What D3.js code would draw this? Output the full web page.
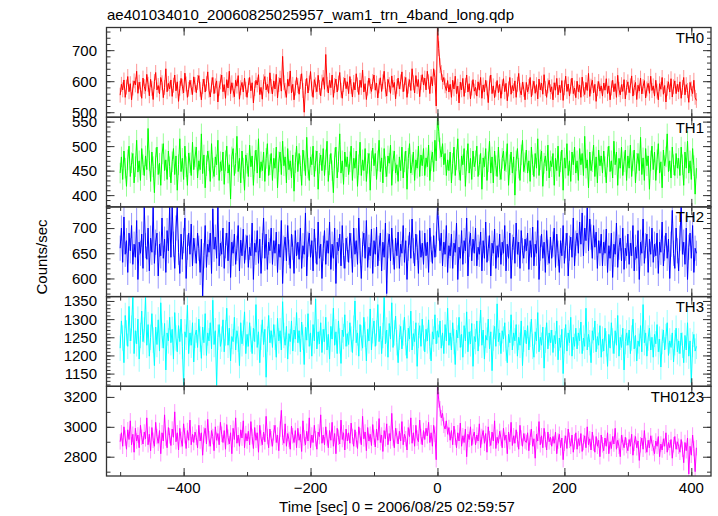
<!DOCTYPE html>
<html>
<head>
<meta charset="utf-8">
<script src="https://cdn.jsdelivr.net/npm/d3@7"></script>
<style>
  html, body { margin: 0; padding: 0; background: #fff; }
  svg { display: block; font-family: "Liberation Sans", Arial, Helvetica, sans-serif; }
</style>
</head>
<body>
<svg id="chart" width="718" height="516"></svg>
<script>
// ---------------- DATA ----------------
const title = "ae401034010_20060825025957_wam1_trn_4band_long.qdp";
const xLabel = "Time [sec] 0 = 2006/08/25 02:59:57";
const yLabel = "Counts/sec";
const bandNames = ["TH0", "TH1", "TH2", "TH3", "TH0123"];
const bandColors = ["#ff0000", "#00ff00", "#0000ff", "#00ffff", "#ff00ff"];
const timeStart = -500;   // first bin time (s)
const binWidth = 2;       // s
const xTickValues = [-400, -200, 0, 200, 400];

const th0 = [
  555,590,572,604,548,581,615,566,592,540,578,601,588,632,561,597,574,545,610,583,
  568,622,590,553,606,577,541,599,628,572,586,559,612,595,547,580,640,566,593,575,
  604,551,587,620,569,598,535,577,609,584,562,626,591,548,574,603,580,557,614,589,
  563,596,618,574,540,583,607,565,592,630,571,549,588,612,560,585,601,533,577,598,
  620,566,589,545,605,578,632,560,595,571,550,603,584,618,542,579,596,565,610,574,
  548,587,612,569,595,530,576,603,588,621,557,580,542,598,615,572,590,561,627,583,
  559,601,575,622,546,589,610,568,680,595,571,548,606,584,633,562,590,540,578,612,
  586,558,599,624,570,500,583,609,562,594,631,575,548,605,588,566,619,580,553,597,
  612,574,686,590,562,603,579,620,548,586,607,565,594,628,571,545,589,610,576,598,
  560,615,583,549,596,572,624,588,557,603,580,636,565,592,541,578,610,584,567,599,
  620,571,594,546,585,611,567,598,632,574,552,606,589,561,617,580,596,543,583,610,
  575,598,630,566,591,612,548,584,605,570,640,595,562,618,583,605,550,596,621,588,
  610,572,632,598,560,615,585,640,612,520,775,705,650,628,598,612,585,570,602,565,
  590,548,603,575,616,560,584,530,597,572,609,551,586,620,565,592,543,578,605,568,
  580,552,598,571,612,545,588,566,603,578,531,594,620,560,585,547,574,602,563,590,
  545,582,608,566,593,537,575,612,558,586,569,601,548,590,625,571,556,597,574,540,
  596,565,583,612,550,578,600,561,589,543,607,572,594,558,621,576,548,585,603,566,
  582,540,595,571,609,556,587,563,602,538,579,616,567,591,552,584,610,560,578,547,
  600,566,588,548,613,575,557,596,570,625,551,584,603,562,590,535,576,599,568,585,
  552,594,571,608,560,585,540,578,603,566,592,548,619,574,556,589,567,605,543,580,
  598,563,585,617,552,579,596,541,587,568,610,559,583,602,546,575,593,561,616,570,
  585,552,603,568,540,592,574,612,558,586,533,577,598,565,608,549,582,601,560,590,
  566,598,545,580,612,556,589,570,532,596,575,560,603,548,538
];
const th1 = [
  445,478,432,490,455,418,472,500,438,466,485,425,458,512,447,470,430,495,462,440,
  480,452,536,470,428,488,458,405,476,498,442,465,420,484,505,450,472,432,490,458,
  425,468,495,442,480,410,462,515,448,475,432,500,458,420,486,466,440,508,452,478,
  498,435,470,452,525,444,482,415,460,490,470,428,505,455,438,478,462,512,430,468,
  450,488,422,470,500,445,462,392,478,495,440,465,520,448,475,425,490,455,410,482,
  465,438,502,458,480,420,470,492,445,515,435,468,450,488,428,475,505,440,462,485,
  430,475,455,498,415,468,488,442,510,460,478,425,495,452,470,435,482,408,466,500,
  448,485,460,420,492,470,440,518,455,430,478,462,500,438,470,490,412,465,482,450,
  495,440,472,510,428,462,485,450,405,476,498,435,468,525,445,470,422,488,458,478,
  442,468,500,430,475,455,490,418,462,508,440,472,450,495,428,465,485,410,470,496,
  460,485,432,470,512,448,476,425,495,458,438,480,465,502,420,470,490,445,462,428,
  478,450,498,435,468,490,412,475,505,445,462,488,430,472,455,500,438,482,460,495,
  440,476,458,502,430,470,488,448,512,470,558,530,496,478,505,462,485,440,472,450,
  488,425,465,498,440,472,515,452,430,480,462,495,418,470,505,445,475,432,490,458,
  470,500,438,462,485,412,476,458,495,430,468,510,445,478,425,490,460,438,498,452,
  432,475,490,450,468,505,420,462,488,445,478,400,470,495,455,430,482,512,448,466,
  492,445,470,428,498,462,438,485,455,515,440,472,490,418,465,480,450,502,435,470,
  458,485,420,475,450,500,438,468,492,410,476,455,505,440,470,428,488,462,498,445,
  470,430,495,462,485,440,520,455,472,415,488,450,468,502,438,478,425,492,460,480,
  445,490,458,425,478,500,448,470,435,510,462,488,420,475,455,498,440,468,492,430,
  480,455,502,438,470,492,425,465,485,450,518,442,476,430,495,460,480,412,470,500,
  452,488,430,472,505,445,468,415,492,460,478,525,448,470,435,498,462,440,485,455,
  475,440,498,462,420,488,455,510,445,470,432,495,460,402,455
];
const th2 = [
  660,700,632,722,648,675,612,690,655,705,628,668,642,715,598,672,650,688,620,742,
  665,638,700,615,680,652,742,630,672,690,605,668,645,720,640,678,612,695,655,742,
  642,742,668,620,700,742,652,610,688,638,675,720,600,662,690,648,708,625,680,655,
  630,690,660,612,678,565,645,705,622,668,652,690,610,738,658,682,640,742,625,670,
  648,700,620,665,690,635,712,602,672,650,688,628,660,705,615,676,645,698,630,662,
  685,622,662,645,710,598,670,652,695,630,678,610,665,720,640,688,618,672,655,700,
  628,675,650,692,612,668,642,715,590,660,682,635,705,652,620,688,662,610,695,645,
  672,638,700,620,665,648,730,605,668,690,642,675,615,698,655,628,712,640,668,600,
  660,695,628,675,650,712,618,668,640,700,590,672,655,688,625,705,645,620,680,658,
  632,690,665,612,700,648,675,628,720,655,600,668,690,640,715,622,662,645,698,610,
  675,648,702,625,660,690,615,672,642,710,570,665,688,635,700,652,618,680,645,692,
  620,668,650,705,632,675,598,660,692,640,718,655,625,688,662,610,695,642,670,628,
  690,645,672,612,700,658,630,685,642,668,742,700,655,690,625,672,648,705,612,665,
  645,688,620,670,652,710,598,662,640,695,628,675,655,720,605,668,690,635,678,650,
  700,625,662,648,692,615,675,640,712,632,660,685,605,670,650,698,620,665,642,688,
  628,672,650,705,615,668,640,690,600,662,682,630,710,648,672,620,695,655,640,678,
  655,690,618,675,642,702,625,668,650,715,598,660,688,640,672,612,695,652,630,682,
  640,668,700,622,688,650,612,675,645,705,630,665,690,605,660,682,642,720,625,670,
  690,650,712,668,730,645,700,675,740,655,718,682,640,705,662,692,620,675,650,688,
  625,672,650,698,612,665,640,690,602,668,648,710,622,662,680,635,700,618,660,645,
  688,628,670,645,705,615,662,640,695,598,672,650,718,630,665,688,612,678,648,700,
  632,668,645,690,610,672,652,712,625,660,690,640,678,600,668,735,650,620,700,655,
  615,680,742,648,672,628,700,598,662,690,640,705,612,660,650
];
const th3 = [
  1220,1295,1248,1180,1310,1262,1225,1335,1240,1275,1362,1205,1268,1232,1300,1190,1255,1322,1238,1270,
  1362,1228,1285,1198,1250,1315,1242,1172,1278,1230,1298,1212,1345,1255,1220,1288,1160,1262,1240,1305,
  1235,1272,1190,1318,1248,1210,1282,1238,1300,1225,1115,1265,1250,1338,1205,1262,1228,1290,1182,1255,
  1270,1222,1300,1245,1192,1278,1235,1315,1200,1262,1240,1290,1218,1352,1230,1268,1118,1250,1285,1225,
  1245,1298,1210,1262,1330,1228,1275,1185,1252,1238,1305,1215,1268,1245,1172,1290,1232,1262,1320,1205,
  1258,1225,1290,1245,1205,1275,1238,1340,1222,1265,1180,1250,1298,1230,1272,1140,1245,1310,1235,1268,
  1222,1285,1250,1195,1302,1240,1268,1215,1348,1255,1228,1280,1190,1260,1238,1295,1212,1270,1245,1318,
  1235,1268,1210,1292,1250,1175,1278,1242,1315,1225,1262,1198,1285,1240,1355,1218,1265,1232,1290,1208,
  1272,1238,1305,1215,1258,1190,1280,1245,1330,1228,1265,1205,1295,1240,1178,1270,1252,1312,1225,1260,
  1230,1290,1245,1208,1275,1350,1235,1262,1198,1285,1248,1220,1305,1258,1185,1272,1240,1328,1215,1268,
  1295,1225,1262,1340,1238,1280,1205,1255,1362,1232,1270,1195,1288,1245,1345,1222,1262,1308,1235,1180,
  1250,1280,1218,1262,1305,1235,1192,1275,1245,1322,1215,1260,1238,1290,1170,1255,1282,1225,1300,1248,
  1210,1272,1240,1298,1225,1185,1265,1245,1312,1232,1268,1250,1295,1220,1262,1205,1285,1240,1330,1228,
  1262,1215,1290,1238,1175,1270,1248,1305,1222,1258,1195,1282,1240,1320,1210,1265,1232,1288,1170,1252,
  1238,1295,1212,1260,1325,1228,1270,1190,1255,1242,1300,1218,1265,1158,1248,1280,1225,1342,1238,1262,
  1205,1268,1245,1290,1220,1180,1258,1235,1312,1215,1262,1240,1285,1198,1250,1228,1295,1172,1245,1270,
  1232,1282,1215,1258,1300,1225,1195,1265,1240,1318,1210,1250,1228,1278,1165,1242,1290,1218,1262,1235,
  1270,1208,1255,1232,1295,1188,1248,1222,1272,1150,1240,1285,1212,1262,1235,1305,1198,1250,1225,1275,
  1218,1262,1240,1292,1205,1248,1225,1330,1215,1258,1235,1180,1268,1242,1295,1210,1252,1228,1282,1195,
  1245,1212,1275,1232,1170,1258,1220,1290,1240,1205,1268,1228,1310,1198,1250,1222,1275,1160,1238,1262,
  1228,1270,1205,1248,1300,1218,1255,1185,1240,1225,1282,1210,1340,1235,1262,1198,1248,1275,1215,1250,
  1195,1258,1232,1285,1210,1245,1168,1238,1270,1215,1252,1290,1200,1240,1222,1262,1182,1235,1275,1210,
  1240,1205,1262,1228,1180,1255,1215,1290,1198,1240,1125,1230,1258,1212,1225
];
const th0123 = [
  2900,2960,2870,3000,2925,2850,2980,2915,3040,2880,2950,2830,2990,2905,2945,2860,3010,2930,2885,2965,
  2920,3060,2880,2950,2840,2995,2910,2870,3030,2935,2890,2975,2820,2960,2905,3080,2925,2860,2995,2940,
  2875,2985,2930,3100,2900,2960,2845,2990,2915,2870,3020,2940,2855,2975,2910,3045,2880,2950,2895,2965,
  2930,2860,3010,2905,2960,2810,2945,2990,2885,3050,2920,2870,2975,2935,2840,3000,2910,2955,2880,3030,
  2950,2895,2975,2850,3015,2930,2885,2960,2820,2990,2915,3060,2890,2945,2870,2980,2925,3040,2860,2955,
  2905,2970,2880,3035,2935,2855,2995,2910,2960,2830,3010,2925,2880,2965,2900,3070,2935,2860,2985,2920,
  2870,2960,3010,2895,2945,2840,2985,3110,2930,2890,3020,2870,2955,2915,2850,3005,2940,2895,2975,2860,
  2990,2910,2950,2835,3040,2925,2880,2970,2905,3060,2860,2945,2895,3010,2920,2850,2965,2935,3080,2890,
  2945,2880,3000,2925,2860,2975,2910,3030,2870,2955,2820,2990,2930,2885,3045,2915,2960,2845,2985,2905,
  2960,2890,3025,2935,2870,2980,2915,2855,3000,2940,2880,3070,2920,2965,2840,2995,2905,2950,2875,3015,
  2930,2865,2985,2910,3055,2895,2945,2835,2975,2920,3020,2880,2955,2905,3090,2925,2860,2990,2940,2885,
  2970,2905,3035,2880,2950,2920,2845,2995,2935,3060,2890,2960,2870,3010,2925,2900,3045,2935,2880,2975,
  2915,2990,2940,3030,2895,2960,2870,3010,2950,2780,3270,3180,3120,3060,3090,3010,2985,3040,2950,2995,
  2910,2975,2880,3005,2930,2860,2960,2905,3025,2870,2940,2895,2985,2800,2950,2915,3000,2875,2935,2965,
  2880,2945,2905,3020,2860,2935,2975,2890,2955,2830,3000,2920,2875,2965,2905,3040,2855,2930,2890,2970,
  2925,2860,2990,2910,2945,2820,2965,2900,3030,2875,2940,2890,2980,2915,2850,3010,2925,2870,2955,2905,
  2895,2960,2840,2930,2985,2870,2920,2790,2950,2905,3035,2880,2940,2860,2990,2915,2845,2965,2900,2930,
  2870,2935,2890,2965,2820,2905,2950,2860,2925,2780,2890,2940,2855,2985,2910,2870,2945,2830,2900,2960,
  2850,2920,2875,2955,2835,2895,2940,2860,3000,2880,2920,2845,2965,2890,2830,2935,2870,2910,2800,2945,
  2880,2840,2925,2870,2960,2820,2900,2855,2935,2885,2990,2850,2910,2870,2800,2945,2895,2860,2930,2875,
  2840,2915,2870,2950,2810,2890,2935,2860,2905,2775,2880,2925,2850,2975,2875,2830,2910,2860,2940,2890,
  2860,2820,2905,2870,2935,2800,2885,2845,2920,2870,2960,2830,2895,2860,2915,2790,2880,2935,2850,2900,
  2870,2830,2915,2850,2760,2895,2840,2925,2685,2870,2810,2945,2855,2700,2860
];
const seriesValues = [th0, th1, th2, th3, th0123];
// per-band 1-sigma error bar half-width (counts/sec)
const bandErrors = [24, 21, 25, 35, 52];
// y-axis ranges and tick steps per panel
const yDomains = [[484, 773], [376, 559], [564, 742], [1115, 1362], [2671, 3271]];
const yMajorTicks = [[500, 600, 700], [400, 450, 500, 550], [600, 650, 700], [1150, 1200, 1250, 1300, 1350], [2800, 3000, 3200]];
const yMinorStep = [20, 10, 10, 10, 100];
const xDomain = [-521.5, 431];

// ---------------- LAYOUT ----------------
const svg = d3.select("#chart");
const plotL = 106.5, plotR = 711, plotT = 27.5, plotB = 476;
const nPanels = 5;
const panelH = (plotB - plotT) / nPanels;
const majorLen = 8, minorLen = 4;
const frameColor = "#333";

const x = d3.scaleLinear().domain(xDomain).range([plotL, plotR]);
const times = d3.range(th0.length).map(i => timeStart + i * binWidth);

svg.append("text")
  .attr("x", 107).attr("y", 19.5)
  .attr("font-size", 15).attr("fill", "#000")
  .text(title);

const defs = svg.append("defs");

for (let p = 0; p < nPanels; p++) {
  const y0 = plotT + p * panelH, y1 = y0 + panelH;
  const y = d3.scaleLinear().domain(yDomains[p]).range([y1, y0]);
  const g = svg.append("g");
  const clipId = "clip" + p;
  defs.append("clipPath").attr("id", clipId)
    .append("rect").attr("x", plotL).attr("y", y0).attr("width", plotR - plotL).attr("height", panelH);

  const data = seriesValues[p].map((v, i) => ({ t: times[i], v }));
  const dg = g.append("g").attr("clip-path", `url(#${clipId})`);
  dg.selectAll("line.err").data(data).join("line")
    .attr("class", "err")
    .attr("x1", d => x(d.t)).attr("x2", d => x(d.t))
    .attr("y1", d => y(d.v - bandErrors[p])).attr("y2", d => y(d.v + bandErrors[p]))
    .attr("stroke", bandColors[p]).attr("stroke-opacity", 0.42).attr("stroke-width", 1);
  dg.append("path").datum(data)
    .attr("d", d3.line().x(d => x(d.t)).y(d => y(d.v)))
    .attr("fill", "none").attr("stroke", bandColors[p]).attr("stroke-width", 1);

  const yMinor = d3.range(Math.ceil(yDomains[p][0] / yMinorStep[p]) * yMinorStep[p], yDomains[p][1] + 0.001, yMinorStep[p]);
  const axL = d3.axisRight(y).tickValues(yMinor).tickFormat("").tickSizeInner(minorLen).tickSizeOuter(0);
  const axR = d3.axisLeft(y).tickValues(yMinor).tickFormat("").tickSizeInner(minorLen).tickSizeOuter(0);
  const axLM = d3.axisRight(y).tickValues(yMajorTicks[p]).tickFormat("").tickSizeInner(majorLen).tickSizeOuter(0);
  const axRM = d3.axisLeft(y).tickValues(yMajorTicks[p]).tickFormat("").tickSizeInner(majorLen).tickSizeOuter(0);
  [[axL, plotL], [axLM, plotL], [axR, plotR], [axRM, plotR]].forEach(([ax, xp]) => {
    const a = g.append("g").attr("transform", `translate(${xp},0)`).call(ax);
    a.select(".domain").remove();
    a.selectAll("line").attr("stroke", frameColor).attr("stroke-width", 1);
  });
  g.selectAll("text.ylab").data(yMajorTicks[p]).join("text")
    .attr("class", "ylab")
    .attr("x", 97).attr("y", d => y(d)).attr("dy", "0.36em")
    .attr("text-anchor", "end").attr("font-size", 15).attr("fill", "#000")
    .text(d => d);

  const xMinor = d3.range(-500, 431, 100);
  const axTopMin = d3.axisBottom(x).tickValues(xMinor).tickFormat("").tickSizeInner(minorLen).tickSizeOuter(0);
  const axTopMaj = d3.axisBottom(x).tickValues(xTickValues).tickFormat("").tickSizeInner(majorLen).tickSizeOuter(0);
  const axBotMin = d3.axisTop(x).tickValues(xMinor).tickFormat("").tickSizeInner(minorLen).tickSizeOuter(0);
  const axBotMaj = d3.axisTop(x).tickValues(xTickValues).tickFormat("").tickSizeInner(majorLen).tickSizeOuter(0);
  [[axTopMin, y0], [axTopMaj, y0], [axBotMin, y1], [axBotMaj, y1]].forEach(([ax, yp]) => {
    const a = g.append("g").attr("transform", `translate(0,${yp})`).call(ax);
    a.select(".domain").remove();
    a.selectAll("line").attr("stroke", frameColor).attr("stroke-width", 1);
  });

  g.append("rect").attr("x", plotL).attr("y", y0).attr("width", plotR - plotL).attr("height", panelH)
    .attr("fill", "none").attr("stroke", frameColor).attr("stroke-width", 1.3);

  g.append("text").attr("x", 704).attr("y", y0 + 15.5)
    .attr("text-anchor", "end").attr("font-size", 15).attr("fill", "#000")
    .text(bandNames[p]);
}

svg.selectAll("text.xlab").data(xTickValues).join("text")
  .attr("class", "xlab")
  .attr("x", d => x(d)).attr("y", 493)
  .attr("text-anchor", "middle").attr("font-size", 15).attr("fill", "#000")
  .text(d => d < 0 ? "\u2212" + Math.abs(d) : String(d));

svg.append("text")
  .attr("x", 397).attr("y", 512)
  .attr("text-anchor", "middle").attr("font-size", 15).attr("fill", "#000")
  .text(xLabel);

svg.append("text")
  .attr("transform", "translate(47,257) rotate(-90)")
  .attr("text-anchor", "middle").attr("font-size", 15).attr("fill", "#000")
  .text(yLabel);
</script>
</body>
</html>
